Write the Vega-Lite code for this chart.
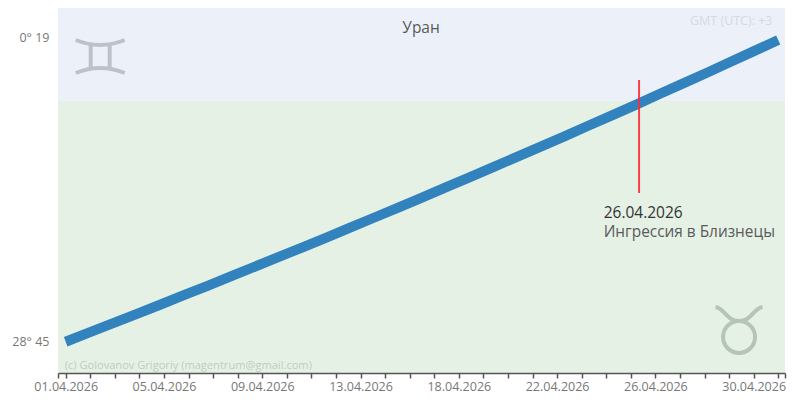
{
"$schema":"https://vega.github.io/schema/vega-lite/v6.json",
"width":727,"height":365,
"autosize":{"type":"none"},
"padding":{"left":58,"top":8,"right":10,"bottom":34},
"background":"white",
"config":{"view":{"stroke":null},"font":"Open Sans"},
"encoding":{
"x":{"field":"date","type":"temporal","title":null,
"scale":{"type":"utc","domain":[1774973606400,1777618224000],"nice":false},
"axis":{"values":[1774973606400,1775001600000,1775090979310,1775180358621,1775269737931,1775359117241,1775448496552,1775537875862,1775627255172,1775716634483,1775806013793,1775895393103,1775984772414,1776074151724,1776163531034,1776252910345,1776342289655,1776431668966,1776521048276,1776610427586,1776699806897,1776789186207,1776878565517,1776967944828,1777057324138,1777146703448,1777236082759,1777325462069,1777414841379,1777504220690,1777593600000,1777618224000],
"labelExpr":"inrange(time(datum.value),[1775001600000,1777593600000]) && round((time(datum.value)-1775001600000)/89379310.34)%4==0 ? utcFormat(time(datum.value)+43200000,'%d.%m.%Y') : ''",
"labelOverlap":false,"labelBound":false,"labelFlush":false,"grid":false,"zindex":1,
"domainColor":"#555555","tickColor":"#555555","domainWidth":1.5,"tickWidth":1.5,"tickSize":5,
"labelColor":"#777777","labelFontSize":12.5,"labelPadding":2}},
"y":{"field":"m","type":"quantitative","title":null,
"scale":{"domain":[-84.74,28.97],"nice":false,"zero":false},
"axis":{"values":[-74.9,19.7],"labelExpr":"datum.value>0?'0° 19':'28° 45'","domain":false,"ticks":false,"grid":false,"labelPadding":9,"labelColor":"#777777","labelFontSize":12.5,"labelOverlap":false}}
},
"layer":[
{"data":{"values":[
{"zone":"Близнецы","date":"2026-03-31T16:13:26Z","date2":"2026-05-01T06:50:24Z","m":0,"m2":28.97},
{"zone":"Телец","date":"2026-03-31T16:13:26Z","date2":"2026-05-01T06:50:24Z","m":-84.74,"m2":0}],
"format":{"parse":{"date":"date","date2":"date"}}},
"mark":{"type":"rect","stroke":null},
"encoding":{"x2":{"field":"date2"},"y2":{"field":"m2"},
"color":{"field":"zone","type":"nominal","legend":null,"scale":{"domain":["Близнецы","Телец"],"range":["#ecf1f9","#e6f1e6"]}}}},
{"data":{"values":[{"date":"2026-04-02T10:51:00Z","m":13.86}]},
"mark":{"type":"point","filled":false,"opacity":1,"size":2500,"stroke":"#bcc2cb","strokeWidth":4,"shape":"M-0.98 -0.66Q0 -0.26 0.98 -0.66M-0.98 0.66Q0 0.26 0.98 0.66M-0.38 -0.44V0.44M0.38 -0.44V0.44"}},
{"data":{"values":[{"date":"2026-04-29T08:24:00Z","m":-71.34}]},
"mark":{"type":"point","filled":false,"opacity":1,"size":2500,"stroke":"#b5c4b8","strokeWidth":4,"shape":"M-0.94 -0.92C-0.55 -0.85 -0.5 -0.35 0 -0.36C0.5 -0.35 0.55 -0.85 0.94 -0.92M-0.64 0.28C-0.64 -0.07 -0.35 -0.36 0 -0.36C0.35 -0.36 0.64 -0.07 0.64 0.28C0.64 0.63 0.35 0.92 0 0.92C-0.35 0.92 -0.64 0.63 -0.64 0.28Z"}},
{"data":{"values":[
{"date":"2026-04-01T00:00:00Z","m":-75},{"date":"2026-04-02T00:00:00Z","m":-72.1},{"date":"2026-04-03T00:00:00Z","m":-69.2},{"date":"2026-04-04T00:00:00Z","m":-66.3},{"date":"2026-04-05T00:00:00Z","m":-63.4},{"date":"2026-04-06T00:00:00Z","m":-60.4},{"date":"2026-04-07T00:00:00Z","m":-57.5},{"date":"2026-04-08T00:00:00Z","m":-54.5},{"date":"2026-04-09T00:00:00Z","m":-51.5},{"date":"2026-04-10T00:00:00Z","m":-48.5},{"date":"2026-04-11T00:00:00Z","m":-45.5},{"date":"2026-04-12T00:00:00Z","m":-42.5},{"date":"2026-04-13T00:00:00Z","m":-39.4},{"date":"2026-04-14T00:00:00Z","m":-36.3},{"date":"2026-04-15T00:00:00Z","m":-33.2},{"date":"2026-04-16T00:00:00Z","m":-30.1},{"date":"2026-04-17T00:00:00Z","m":-26.9},{"date":"2026-04-18T00:00:00Z","m":-23.8},{"date":"2026-04-19T00:00:00Z","m":-20.6},{"date":"2026-04-20T00:00:00Z","m":-17.4},{"date":"2026-04-21T00:00:00Z","m":-14.2},{"date":"2026-04-22T00:00:00Z","m":-11},{"date":"2026-04-23T00:00:00Z","m":-7.7},{"date":"2026-04-24T00:00:00Z","m":-4.5},{"date":"2026-04-25T00:00:00Z","m":-1.2},{"date":"2026-04-26T00:00:00Z","m":2.2},{"date":"2026-04-27T00:00:00Z","m":5.5},{"date":"2026-04-28T00:00:00Z","m":8.8},{"date":"2026-04-29T00:00:00Z","m":12.2},{"date":"2026-04-30T00:00:00Z","m":15.6},{"date":"2026-05-01T00:00:00Z","m":19}]},
"mark":{"type":"line","color":"#3182bd","strokeWidth":10,"strokeCap":"butt"}},
{"data":{"values":[{"date":"2026-04-25T03:22:00Z","m":6.54,"m2":-28.66}]},
"mark":{"type":"rule","color":"#ff2a36","strokeWidth":2,"opacity":0.9},
"encoding":{"y2":{"field":"m2"}}},
{"data":{"values":[{"date":"2026-04-15T23:04:00Z","m":22.74,"label":"Уран"}]},
"mark":{"type":"text","align":"center","baseline":"middle","fontSize":15.5,"color":"#5a5a5a"},"encoding":{"text":{"field":"label"}}},
{"data":{"values":[{"date":"2026-04-30T18:14:00Z","m":24.9,"label":"GMT (UTC): +3"}]},
"mark":{"type":"text","align":"right","baseline":"middle","fontSize":12.5,"color":"#d6d9de"},"encoding":{"text":{"field":"label"}}},
{"data":{"values":[{"date":"2026-03-31T23:00:00Z","m":-82.55,"label":"(c) Golovanov Grigoriy (magentrum@gmail.com)"}]},
"mark":{"type":"text","align":"left","baseline":"middle","fontSize":11.1,"color":"#bfcdbf"},"encoding":{"text":{"field":"label"}}},
{"data":{"values":[{"date":"2026-04-23T15:36:00Z","m":-34.9,"label":"26.04.2026"}]},
"mark":{"type":"text","align":"left","baseline":"middle","fontSize":15.5,"color":"#333333"},"encoding":{"text":{"field":"label"}}},
{"data":{"values":[{"date":"2026-04-23T15:36:00Z","m":-40.8,"label":"Ингрессия в Близнецы"}]},
"mark":{"type":"text","align":"left","baseline":"middle","fontSize":15.4,"color":"#5a5a5a"},"encoding":{"text":{"field":"label"}}}
]
}
